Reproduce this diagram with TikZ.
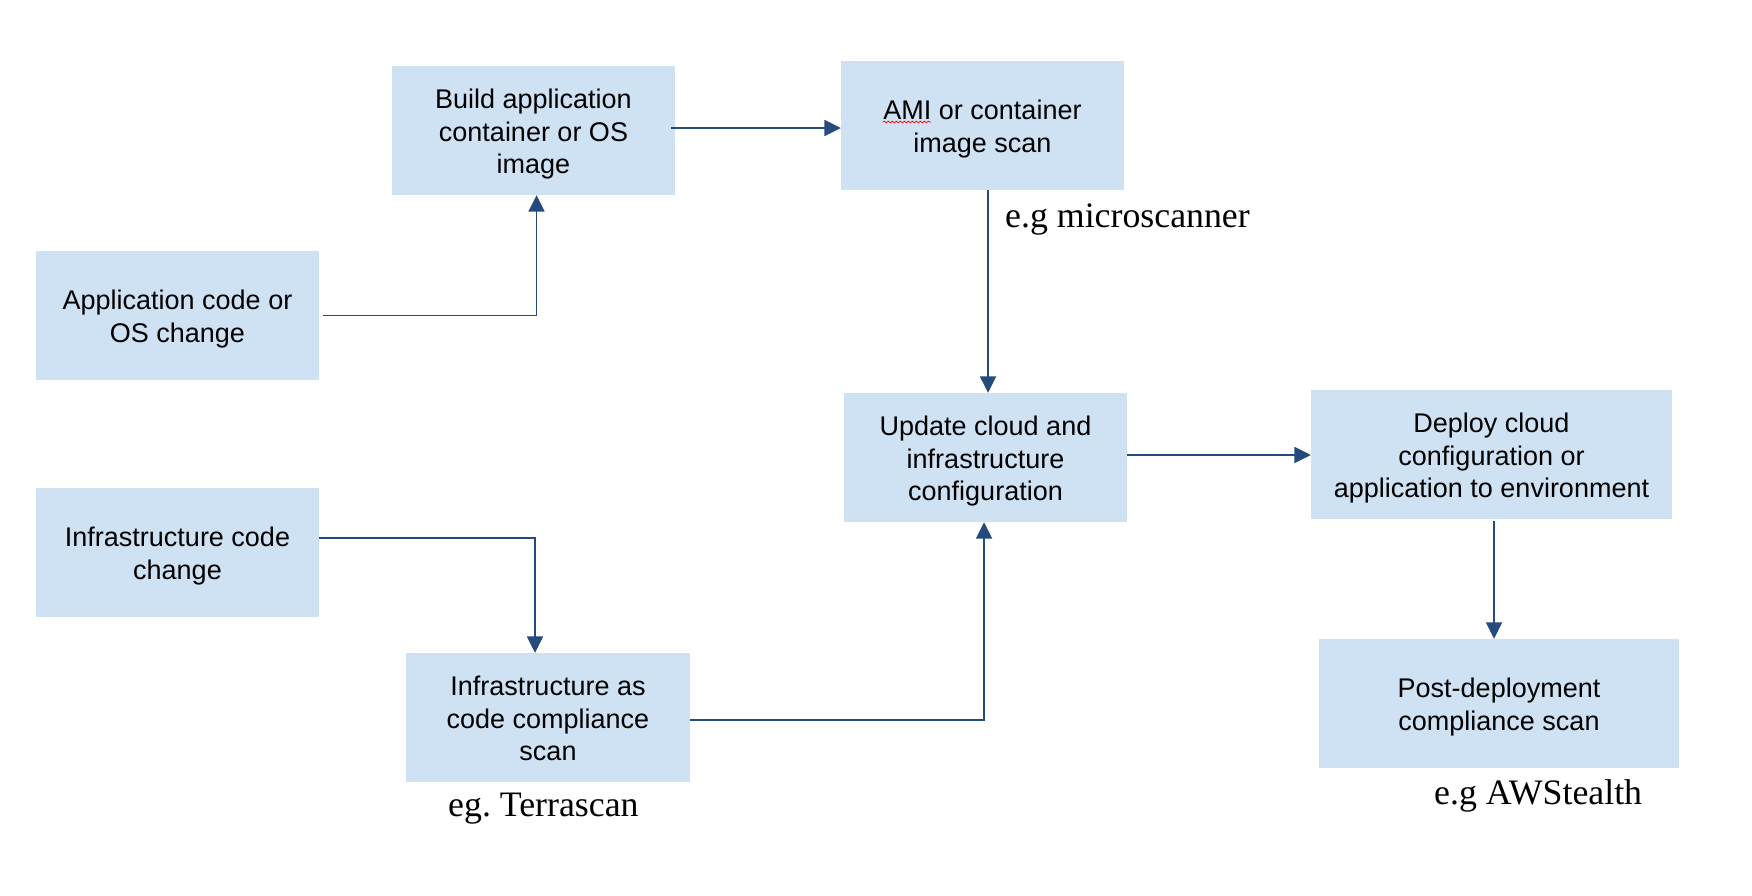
\documentclass[tikz,border=0pt]{standalone}
\usepackage{fontspec}
\setmainfont{Liberation Sans}
\newfontfamily\lblfont{Liberation Serif}
\usetikzlibrary{arrows.meta,decorations.pathmorphing}
\definecolor{boxfill}{HTML}{CFE2F3}
\definecolor{arrcol}{HTML}{244A7E}
\newcommand{\ls}{\rule[-5.7pt]{0pt}{32.7pt}}
\begin{document}
\frenchspacing
\begin{tikzpicture}[x=1pt,y=-1pt,
  box/.style={fill=boxfill, draw=none, minimum width=283pt, minimum height=129pt,
    inner sep=0pt, align=center, font=\fontsize{27}{32.7}\selectfont},
  widebox/.style={box, minimum width=361pt},
  arr/.style={draw=arrcol, line width=1.8pt, -{Triangle[length=16.5pt,width=16pt]}},
  lbl/.style={font=\lblfont\fontsize{35.8}{40}\selectfont, anchor=base west, inner sep=0pt},
  squig/.style={draw=red, line width=0.7pt, decorate,
    decoration={snake, amplitude=0.9pt, segment length=4pt}}
]
\path[use as bounding box, fill=white] (0,0) rectangle (1752,895);

\node[box] (app) at (177.5,315) {\ls Application code or\\\ls OS change};
\node[box] (infra) at (177.5,552.5) {\ls Infrastructure code\\\ls change};
\node[box] (build) at (533.5,130.5) {\ls Build application\\\ls container or OS\\\ls image};
\node[box] (ami) at (982.5,125.5) {\ls AMI or container\\\ls image scan};
\node[box] (update) at (985.5,457.5) {\ls Update cloud and\\\ls infrastructure\\\ls configuration};
\node[box, minimum width=284pt] (iac) at (548,717.5) {\ls Infrastructure as\\\ls code compliance\\\ls scan};
\node[widebox] (deploy) at (1491.5,454.5) {\ls Deploy cloud\\\ls configuration or\\\ls application to environment};
\node[widebox, minimum width=360pt] (post) at (1499,703.5) {\ls Post-deployment\\\ls compliance scan};

\draw[squig] ([xshift=-99.5pt,yshift=3.5pt]ami.center) -- ++(48,0);

\draw[arr] ([xshift=4pt,yshift=-0.5pt]app.east) -| ([xshift=3pt]build.south);
\draw[arr] ([xshift=-4pt,yshift=2.5pt]build.east) -- ([yshift=-2.5pt]ami.west);
\draw[arr] ([xshift=5.5pt]ami.south) -- ([xshift=2.5pt]update.north);
\draw[arr] ([yshift=14.5pt]infra.east) -| ([xshift=-13pt]iac.north);
\draw[arr] ([yshift=-2.5pt]iac.east) -| ([xshift=-1.5pt]update.south);
\draw[arr] ([yshift=2.5pt]update.east) -- ([yshift=-0.5pt]deploy.west);
\draw[arr] ([xshift=2.5pt,yshift=-2pt]deploy.south) -- ([xshift=-5pt]post.north);

\node[lbl] (lmicro) at (1005,227) {e.g microscanner};
\node[lbl] (lterra) at (448,816) {eg. Terrascan};
\node[lbl] (laws) at (1434,804) {e.g AWStealth};
\end{tikzpicture}
\end{document}
